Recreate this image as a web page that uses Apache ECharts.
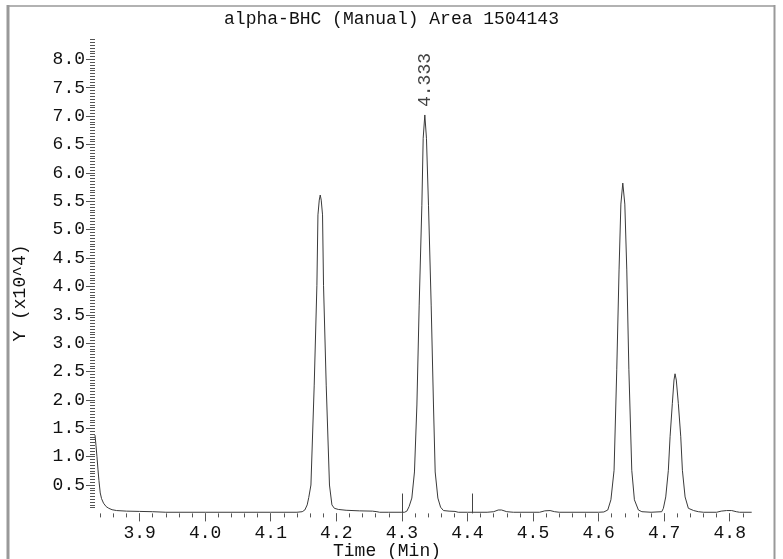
<!DOCTYPE html>
<html>
<head>
<meta charset="utf-8">
<script src="https://cdn.jsdelivr.net/npm/echarts@6/dist/echarts.min.js"></script>
<style>html,body{margin:0;padding:0;background:#fff;}#c{width:783px;height:559px;}</style>
</head>
<body>
<div id="c"></div>
<script>
// ---- data (retention time in minutes, response in x10^4) ----
const times = [
  3.832, 3.8335, 3.835, 3.8365, 3.838, 3.840, 3.842, 3.845, 3.849, 3.853, 3.858, 3.865, 3.880, 3.900, 3.920, 3.940, 4.000, 4.100, 4.140,
  4.148, 4.152, 4.1556, 4.158, 4.1613, 4.1663, 4.1704, 4.172, 4.174, 4.1755, 4.177, 4.179, 4.1805, 4.1846, 4.1896, 4.1933, 4.197, 4.203, 4.215, 4.235, 4.255, 4.262, 4.266,
  4.280, 4.300, 4.304, 4.3076, 4.311, 4.3152, 4.3192, 4.3229, 4.3264, 4.3305, 4.3325, 4.335, 4.3375, 4.3406, 4.3447, 4.3482, 4.3508, 4.3549, 4.359, 4.3634, 4.372, 4.381, 4.386,
  4.400, 4.430, 4.440, 4.447, 4.452, 4.460, 4.470, 4.510, 4.518, 4.526, 4.533, 4.540, 4.600,
  4.608, 4.614, 4.6188, 4.6236, 4.6277, 4.6312, 4.634, 4.6369, 4.640, 4.643, 4.6462, 4.6506, 4.6546, 4.6607, 4.666, 4.680, 4.6963,
  4.6988, 4.7024, 4.7064, 4.709, 4.7125, 4.715, 4.7166, 4.7185, 4.7216, 4.7253, 4.7278, 4.7319, 4.7369, 4.745, 4.7521, 4.760,
  4.780, 4.787, 4.795, 4.803, 4.810, 4.815, 4.8335
];
const values = [
  1.38, 1.20, 1.00, 0.78, 0.58, 0.36, 0.26, 0.18, 0.12, 0.09, 0.065, 0.05, 0.04, 0.035, 0.03, 0.02, 0.02, 0.02, 0.02,
  0.03, 0.06, 0.15, 0.28, 0.50, 2.26, 4.02, 5.26, 5.52, 5.61, 5.52, 5.26, 4.02, 2.26, 0.50, 0.15, 0.09, 0.07, 0.055, 0.045, 0.04, 0.03, 0.02,
  0.02, 0.02, 0.02, 0.04, 0.12, 0.27, 0.73, 1.91, 3.67, 5.43, 6.61, 7.02, 6.61, 5.43, 3.67, 1.91, 0.73, 0.27, 0.11, 0.05, 0.04, 0.035, 0.02,
  0.02, 0.02, 0.03, 0.06, 0.06, 0.03, 0.02, 0.02, 0.045, 0.05, 0.03, 0.02, 0.02,
  0.025, 0.06, 0.24, 0.76, 2.53, 4.29, 5.45, 5.82, 5.45, 4.29, 2.53, 0.76, 0.24, 0.06, 0.03, 0.02, 0.03,
  0.09, 0.29, 0.76, 1.35, 1.94, 2.35, 2.46, 2.35, 1.94, 1.35, 0.76, 0.29, 0.09, 0.05, 0.03, 0.02,
  0.02, 0.04, 0.05, 0.05, 0.03, 0.02, 0.02
];
const peakTimes = [4.335];
const peakValues = [7.02];
const peakLabels = ['4.333'];
const markerTimes = [4.300, 4.408];
const markerHeight = 0.35;
const xTickLabels = [3.9, 4.0, 4.1, 4.2, 4.3, 4.4, 4.5, 4.6, 4.7, 4.8];
const yTickLabels = [0.5, 1.0, 1.5, 2.0, 2.5, 3.0, 3.5, 4.0, 4.5, 5.0, 5.5, 6.0, 6.5, 7.0, 7.5, 8.0];
const titleText = 'alpha-BHC (Manual) Area 1504143';
const xName = 'Time (Min)';
const yName = 'Y (x10^4)';

// ---- axis extents & decorative minor ticks ----
const xMin = 3.832, xMax = 4.8335, yMin = 0, yMax = 8.35;
const xMinor = [];
for (let i = 192; i <= 241; i++) xMinor.push(+(i * 0.02).toFixed(2));
const yMinor = [];
for (let i = 2; i <= 167; i++) yMinor.push(+(i * 0.05).toFixed(2));

const FONT = 'Liberation Mono';
const TXT = '#111';
const TICK = '#555';

const chart = echarts.init(document.getElementById('c'), null, {renderer: 'canvas'});
const lineData = times.map((t, i) => [t, values[i]]);
const markerLines = markerTimes.map(t => [{coord: [t, 0]}, {coord: [t, markerHeight]}]);

chart.setOption({
  animation: false,
  backgroundColor: '#fff',
  title: {
    text: titleText, left: 'center', top: 5,
    textStyle: {fontFamily: FONT, fontSize: 18, fontWeight: 'normal', color: TXT}
  },
  grid: {left: 95, right: 31.3, top: 39.5, bottom: 45.6, containLabel: false},
  xAxis: [
    {
      type: 'value', min: xMin, max: xMax, position: 'bottom',
      axisLine: {show: false, onZero: false},
      splitLine: {show: false},
      axisTick: {show: true, customValues: xTickLabels, length: 8, lineStyle: {color: TICK}},
      axisLabel: {show: true, customValues: xTickLabels, margin: 11, formatter: v => v.toFixed(1),
        fontFamily: FONT, fontSize: 18, color: TXT}
    },
    {
      type: 'value', min: xMin, max: xMax, position: 'bottom',
      axisLine: {show: false, onZero: false},
      splitLine: {show: false},
      axisTick: {show: true, customValues: xMinor, length: 4, lineStyle: {color: TICK}},
      axisLabel: {show: false}
    }
  ],
  yAxis: [
    {
      type: 'value', min: yMin, max: yMax, position: 'left',
      axisLine: {show: false, onZero: false},
      splitLine: {show: false},
      axisTick: {show: true, customValues: yTickLabels, length: 9, lineStyle: {color: TICK}},
      axisLabel: {show: true, customValues: yTickLabels, margin: 10, formatter: v => v.toFixed(1),
        fontFamily: FONT, fontSize: 18, color: TXT}
    },
    {
      type: 'value', min: yMin, max: yMax, position: 'left',
      axisLine: {show: false, onZero: false},
      splitLine: {show: false},
      axisTick: {show: true, customValues: yMinor, length: 5, lineStyle: {color: TICK}},
      axisLabel: {show: false}
    }
  ],
  series: [
    {
      type: 'line', xAxisIndex: 0, yAxisIndex: 0,
      data: lineData, showSymbol: false, symbol: 'none',
      lineStyle: {color: '#3a3a3a', width: 1},
      markLine: {
        silent: true, symbol: ['none', 'none'], label: {show: false},
        lineStyle: {color: '#444', width: 1, type: 'solid'},
        data: markerLines
      }
    },
    {
      type: 'scatter', xAxisIndex: 0, yAxisIndex: 0,
      data: peakTimes.map((t, i) => [t, peakValues[i]]),
      symbolSize: 0,
      label: {
        show: true, position: 'top', distance: 8, rotate: 90,
        align: 'left', verticalAlign: 'middle',
        formatter: p => peakLabels[p.dataIndex],
        fontFamily: FONT, fontSize: 18, color: TXT
      }
    }
  ],
  graphic: [
    {type: 'line', shape: {x1: 8, y1: 6, x2: 775, y2: 6}, style: {stroke: '#999', lineWidth: 1.5}},
    {type: 'line', shape: {x1: 8, y1: 5, x2: 8, y2: 559}, style: {stroke: '#999', lineWidth: 3}},
    {type: 'line', shape: {x1: 774.5, y1: 5, x2: 774.5, y2: 559}, style: {stroke: '#999', lineWidth: 2}},
    {type: 'text', x: 20, y: 293, rotation: Math.PI / 2,
      style: {text: yName, font: '18px "' + FONT + '"', fill: TXT, textAlign: 'center', textVerticalAlign: 'middle'}},
    {type: 'text', x: 387, y: 551,
      style: {text: xName, font: '18px "' + FONT + '"', fill: TXT, textAlign: 'center', textVerticalAlign: 'middle'}}
  ]
});
</script>
</body>
</html>
